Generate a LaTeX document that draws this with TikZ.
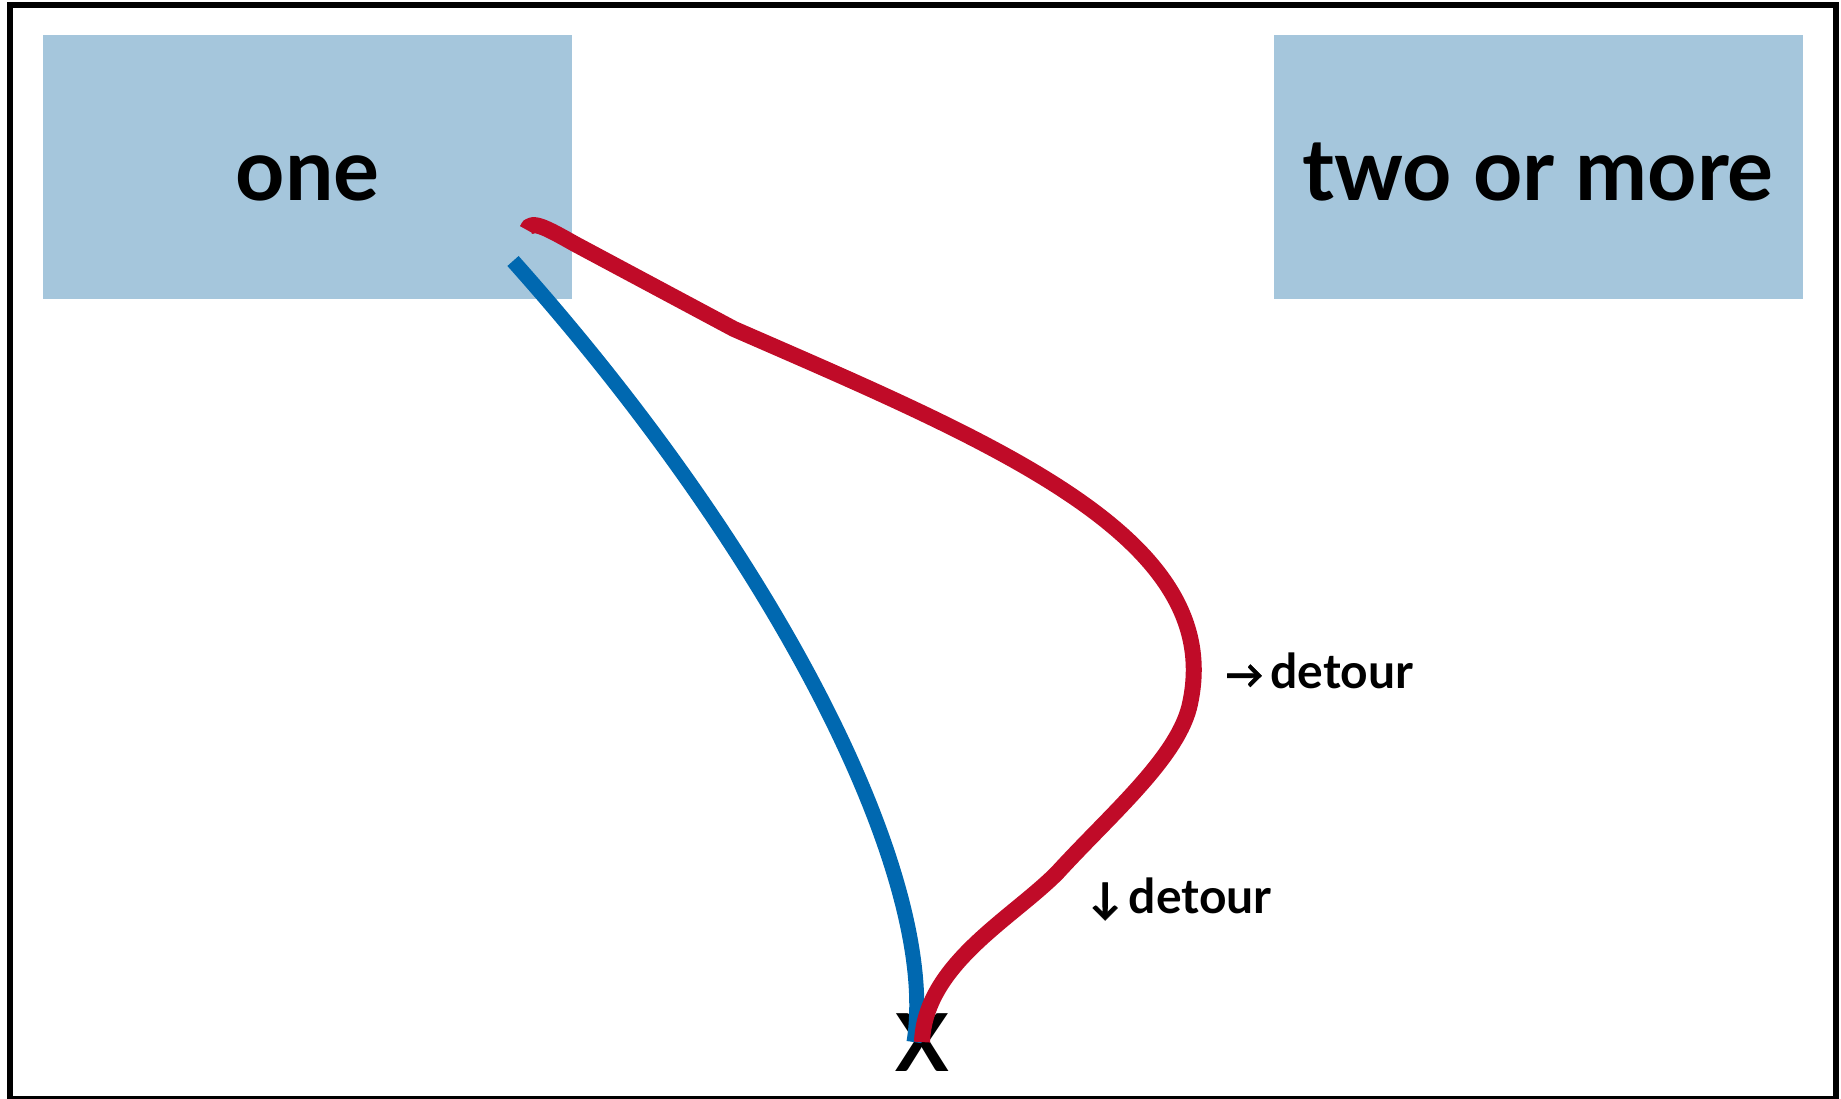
\documentclass[tikz,border=0pt]{standalone}
\usepackage{fontspec}
\setmainfont{Lato}
\newfontfamily\arrowfont[FakeBold=1.5]{Lato}
\definecolor{boxblue}{RGB}{165,198,220}
\definecolor{lineblue}{RGB}{0,104,176}
\definecolor{linered}{RGB}{192,11,40}
\begin{document}
\begin{tikzpicture}[x=0.5pt,y=-0.5pt,
  box/.style={fill=boxblue, inner sep=0pt, minimum width=264.5pt, minimum height=132pt,
    text height=33pt, text depth=0pt, font=\fontsize{43}{52}\selectfont\bfseries},
  lbl/.style={inner sep=0pt, font=\fontsize{24}{29}\selectfont\bfseries},
  blueline/.style={draw=lineblue, line width=7.5pt, line cap=butt},
  redline/.style={draw=linered, line width=8pt, line join=round}]
\useasboundingbox (0,0) rectangle (1841,1098);
\clip (0,0) rectangle (1841,1098);
\draw[line width=3pt] (10,5) rectangle (1836,1099);
\node[box] (one) at (307.5,167) {one};
\node[box] (two) at (1538,167) {two or more};
\node[inner sep=0pt, anchor=base, font=\fontsize{40}{48}\selectfont\bfseries] (X) at (922,1071) {X};
\node[lbl, anchor=base west] (d1) at (1225,688) {{\arrowfont\fontsize{19}{24}\selectfont →}\hspace{3.5pt}detour};
\node[lbl, anchor=base west] (d2) at (1089,913) {{\arrowfont\fontsize{21}{24}\selectfont ↓}\hspace{4pt}detour};
\coordinate (bs) at (513,261);
\coordinate (rs) at (527,230);
\draw[blueline] (bs) .. controls (780,560) and (940,880) .. ([xshift=-4pt]X.center);
\draw[redline] (rs) .. controls (530,218) and (550,230) .. (575,244)
  -- (734,329) .. controls (1000,445) and (1230,540) .. (1189,708)
  .. controls (1175,760) and (1110,815) .. (1057,873)
  .. controls (1010,920) and (925,965) .. (X.center);
\end{tikzpicture}
\end{document}
